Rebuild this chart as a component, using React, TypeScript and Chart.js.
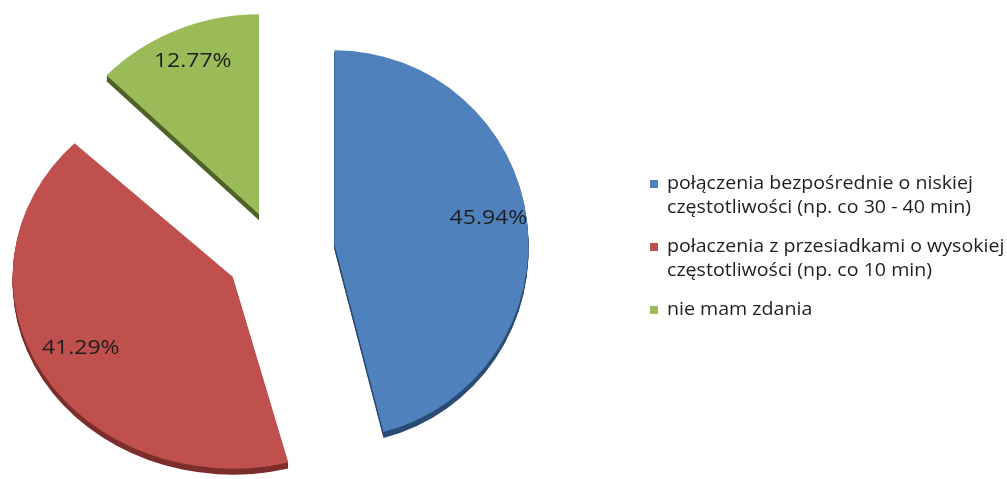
import React, { useEffect, useRef } from "react";
import { Chart, registerables } from "chart.js";

Chart.register(...registerables);

// ---------- data ----------
const categories: string[][] = [
  ["połączenia bezpośrednie o niskiej", "częstotliwości (np. co 30 - 40 min)"],
  ["połaczenia z przesiadkami o wysokiej", "częstotliwości (np. co 10 min)"],
  ["nie mam zdania"],
];
const shares: number[] = [45.94, 41.29, 12.77];
const shareLabels: string[] = ["45.94%", "41.29%", "12.77%"];

// ---------- styles ----------
const faceColors = ["#4F81BD", "#C0504D", "#9BBB59"];
const sideColors = ["#2B4C74", "#7D2E2C", "#4F6228"];
const explodeDist = [60, 49, 41];
const sliceScaleX = [0.97, 1.1, 1.06];
const sliceScaleY = [0.97, 0.96, 1.0];
const DEPTH = 6;
const PIE_RADIUS = 200;
const LABEL_FRAC = 0.8;
const LABEL_LIFT = -6;
const FONT = "'Open Sans', 'DejaVu Sans', sans-serif";
const TEXT_COLOR = "#1E1E1E";
const LABEL_FONT_SIZE = 19.5;
const LABEL_STRETCH = 1.18;
const LEGEND_FONT_SIZE = 17.5;
const LEGEND_STRETCH = 1.12;
const LEGEND_MARKER_X = 650;
const LEGEND_TEXT_X = 667;
const LEGEND_TOP_MID = 184;
const LEGEND_LINE_H = 24;
const LEGEND_ITEM_GAP = 15;
const LEGEND_MARKER = 8;

function sliceTransform(arc: any, i: number) {
  const mid = (arc.startAngle + arc.endAngle) / 2;
  return {
    cx: arc.x,
    cy: arc.y,
    dx: Math.cos(mid) * explodeDist[i],
    dy: Math.sin(mid) * explodeDist[i],
    sx: sliceScaleX[i],
    sy: sliceScaleY[i],
    mid,
  };
}

const explodedPiePlugin = {
  id: "explodedPie3d",
  beforeDatasetDraw(chart: any, args: any) {
    const ctx: CanvasRenderingContext2D = chart.ctx;
    const arcs = args.meta.data;
    arcs.forEach((arc: any, i: number) => {
      const t = sliceTransform(arc, i);
      const saved = arc.options;
      arc.options = {
        ...saved,
        backgroundColor: sideColors[i],
        borderColor: sideColors[i],
        borderWidth: 0,
      };
      for (let d = DEPTH; d >= 1; d--) {
        ctx.save();
        ctx.translate(t.cx + t.dx, t.cy + t.dy + d);
        ctx.scale(t.sx, t.sy);
        ctx.translate(-t.cx, -t.cy);
        arc.draw(ctx);
        ctx.restore();
      }
      arc.options = saved;
      ctx.save();
      ctx.translate(t.cx + t.dx, t.cy + t.dy);
      ctx.scale(t.sx, t.sy);
      ctx.translate(-t.cx, -t.cy);
      arc.draw(ctx);
      ctx.restore();
    });
    return false;
  },
  afterDatasetsDraw(chart: any) {
    const ctx: CanvasRenderingContext2D = chart.ctx;
    const arcs = chart.getDatasetMeta(0).data;
    arcs.forEach((arc: any, i: number) => {
      const t = sliceTransform(arc, i);
      const r = LABEL_FRAC * PIE_RADIUS;
      const px = t.cx + t.dx + t.sx * r * Math.cos(t.mid);
      const py = t.cy + t.dy + t.sy * r * Math.sin(t.mid) + LABEL_LIFT;
      ctx.save();
      ctx.translate(px, py);
      ctx.scale(LABEL_STRETCH, 1);
      ctx.font = `${LABEL_FONT_SIZE}px ${FONT}`;
      ctx.fillStyle = TEXT_COLOR;
      ctx.textAlign = "center";
      ctx.textBaseline = "middle";
      ctx.fillText(shareLabels[i], 0, 0);
      ctx.restore();
    });
  },
  afterDraw(chart: any) {
    const ctx: CanvasRenderingContext2D = chart.ctx;
    const labels = chart.data.labels as string[][];
    const colors = chart.data.datasets[0].backgroundColor as string[];
    let mid = LEGEND_TOP_MID;
    labels.forEach((lines, i) => {
      ctx.save();
      ctx.fillStyle = colors[i];
      ctx.fillRect(LEGEND_MARKER_X, mid - LEGEND_MARKER / 2, LEGEND_MARKER, LEGEND_MARKER);
      ctx.restore();
      lines.forEach((line, k) => {
        const y = mid + k * LEGEND_LINE_H;
        ctx.save();
        ctx.translate(LEGEND_TEXT_X, y + 4.5);
        ctx.scale(LEGEND_STRETCH, 1);
        ctx.font = `${LEGEND_FONT_SIZE}px ${FONT}`;
        ctx.fillStyle = TEXT_COLOR;
        ctx.textAlign = "left";
        ctx.textBaseline = "alphabetic";
        ctx.fillText(line, 0, 0);
        ctx.restore();
      });
      mid += lines.length * LEGEND_LINE_H + LEGEND_ITEM_GAP;
    });
  },
};

export default function App() {
  const canvasRef = useRef<HTMLCanvasElement | null>(null);

  useEffect(() => {
    if (!canvasRef.current) return;
    const chart = new Chart(canvasRef.current, {
      type: "pie",
      data: {
        labels: categories as any,
        datasets: [
          {
            data: shares,
            backgroundColor: faceColors,
            borderWidth: 0,
          },
        ],
      },
      options: {
        animation: false,
        responsive: false,
        maintainAspectRatio: false,
        radius: PIE_RADIUS,
        layout: { padding: { left: 0, right: 457, top: 25, bottom: 0 } },
        plugins: {
          legend: { display: false },
          tooltip: { enabled: false },
          title: { display: false },
        },
        events: [],
      } as any,
      plugins: [explodedPiePlugin as any],
    });
    return () => chart.destroy();
  }, []);

  return (
    <div style={{ position: "absolute", left: 0, top: 0, width: 1007, height: 479, background: "#fff" }}>
      <canvas ref={canvasRef} width={1007} height={479} style={{ display: "block" }} />
    </div>
  );
}
